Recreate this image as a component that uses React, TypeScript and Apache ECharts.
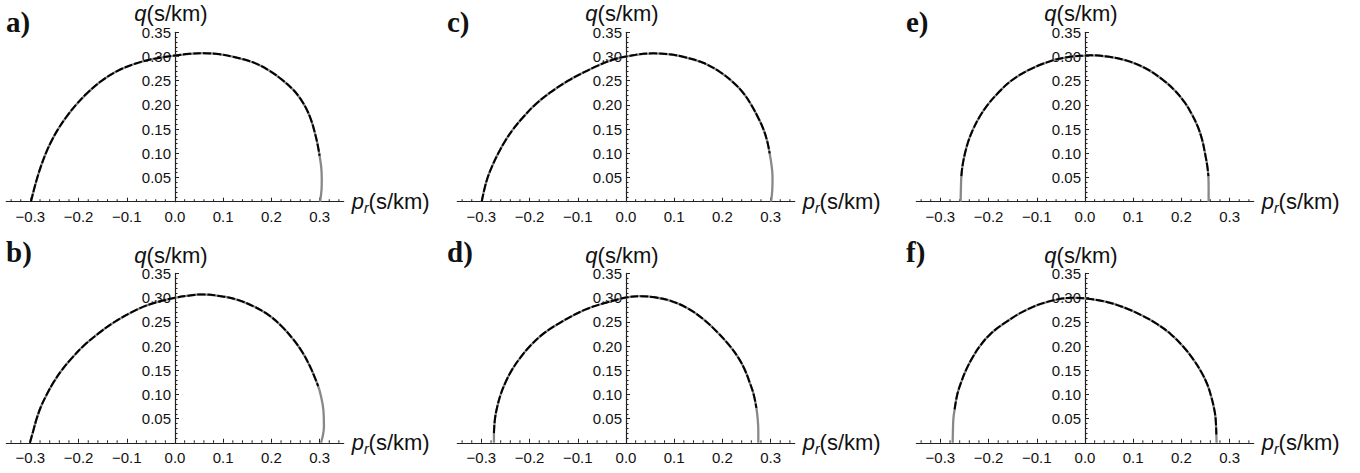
import React, { useEffect, useRef } from "react";
import * as echarts from "echarts";

// Slowness curves q(p_r) for six cases; each point is [p_r, q] in s/km.
const curveA: [number, number][] = [
  [-0.299, 0], [-0.2926, 0.025], [-0.2856, 0.05], [-0.2775, 0.075], [-0.268, 0.1],
  [-0.2565, 0.125], [-0.2425, 0.15], [-0.2255, 0.175], [-0.2055, 0.2], [-0.1815, 0.225],
  [-0.152, 0.25], [-0.12, 0.27], [-0.083, 0.285], [-0.045, 0.295], [0, 0.302],
  [0.03, 0.3055], [0.059, 0.3068], [0.09, 0.305], [0.12, 0.2995], [0.163, 0.2875],
  [0.197, 0.27], [0.222, 0.252], [0.2445, 0.232], [0.26, 0.213], [0.273, 0.191],
  [0.283, 0.167], [0.29, 0.143], [0.2955, 0.12], [0.3, 0.095], [0.3035, 0.07],
  [0.3045, 0.046], [0.304, 0.025], [0.301, 0],
];
const curveB: [number, number][] = [
  [-0.301, 0], [-0.294, 0.025], [-0.287, 0.05], [-0.278, 0.075], [-0.266, 0.1],
  [-0.252, 0.125], [-0.235, 0.15], [-0.214, 0.175], [-0.19, 0.2], [-0.16, 0.225],
  [-0.128, 0.248], [-0.0795, 0.275], [-0.04, 0.29], [0, 0.2996], [0.028, 0.304],
  [0.055, 0.3065], [0.095, 0.303], [0.128, 0.296], [0.165, 0.281], [0.197, 0.262],
  [0.222, 0.24], [0.2455, 0.2135], [0.265, 0.186], [0.28, 0.158], [0.29, 0.135],
  [0.297, 0.117], [0.302, 0.1], [0.3077, 0.069], [0.309, 0.034], [0.303, 0],
];
const curveC: [number, number][] = [
  [-0.2994, 0], [-0.294, 0.025], [-0.287, 0.05], [-0.277, 0.075], [-0.265, 0.1],
  [-0.251, 0.125], [-0.234, 0.15], [-0.213, 0.175], [-0.189, 0.2], [-0.158, 0.225],
  [-0.12, 0.25], [-0.088, 0.267], [-0.061, 0.28], [-0.03, 0.2925], [0, 0.3],
  [0.0567, 0.3065], [0.09, 0.3045], [0.12, 0.299], [0.16, 0.287], [0.195, 0.268],
  [0.222, 0.247], [0.243, 0.225], [0.26, 0.2], [0.275, 0.172], [0.285, 0.15],
  [0.293, 0.125], [0.298, 0.1], [0.302, 0.075], [0.304, 0.05], [0.3035, 0.025],
  [0.301, 0],
];
const curveD: [number, number][] = [
  [-0.274, 0], [-0.274, 0.02], [-0.2718, 0.05], [-0.267, 0.075], [-0.26, 0.1],
  [-0.25, 0.125], [-0.237, 0.15], [-0.22, 0.175], [-0.199, 0.2], [-0.172, 0.225],
  [-0.137, 0.248], [-0.085, 0.275], [-0.04, 0.29], [0, 0.3], [0.03, 0.303],
  [0.06, 0.3005], [0.0913, 0.2938], [0.126, 0.279], [0.1604, 0.2555], [0.19, 0.228],
  [0.2158, 0.1997], [0.233, 0.176], [0.2462, 0.1515], [0.2565, 0.125], [0.2649, 0.0999],
  [0.2705, 0.072], [0.2732, 0.0496], [0.2745, 0.025], [0.2745, 0],
];
const curveE: [number, number][] = [
  [-0.258, 0], [-0.2575, 0.025], [-0.2565, 0.053], [-0.254, 0.075], [-0.249, 0.1],
  [-0.242, 0.125], [-0.232, 0.15], [-0.219, 0.175], [-0.202, 0.2], [-0.18, 0.225],
  [-0.153, 0.25], [-0.115, 0.273], [-0.07, 0.291], [-0.03, 0.2995], [0, 0.302],
  [0.01, 0.3025], [0.045, 0.3], [0.085, 0.292], [0.125, 0.276], [0.16, 0.253],
  [0.186, 0.23], [0.207, 0.205], [0.222, 0.18], [0.234, 0.155], [0.243, 0.128],
  [0.249, 0.1], [0.2535, 0.075], [0.256, 0.053], [0.2565, 0.025], [0.2565, 0],
];
const curveF: [number, number][] = [
  [-0.2745, 0], [-0.274, 0.025], [-0.273, 0.05], [-0.2705, 0.069], [-0.265, 0.1],
  [-0.257, 0.125], [-0.247, 0.15], [-0.234, 0.175], [-0.218, 0.2], [-0.196, 0.225],
  [-0.166, 0.248], [-0.121, 0.275], [-0.0726, 0.2927], [-0.024, 0.2996], [0, 0.2985],
  [0.045, 0.291], [0.0864, 0.2775], [0.1175, 0.2635], [0.1487, 0.246], [0.178, 0.2245],
  [0.204, 0.1985], [0.225, 0.172], [0.242, 0.145], [0.254, 0.12], [0.262, 0.095],
  [0.268, 0.07], [0.271, 0.05], [0.2725, 0.017], [0.273, 0],
];

// Lowest q reached by the dashed curve on the left and right branches.
const dashCutA = [0, 0.095];
const dashCutB = [0, 0.117];
const dashCutC = [0, 0.1];
const dashCutD = [0.02, 0.072];
const dashCutE = [0.053, 0.053];
const dashCutF = [0.069, 0.017];

const panelLabels = ["a)", "b)", "c)", "d)", "e)", "f)"];
const curves = [curveA, curveB, curveC, curveD, curveE, curveF];
const dashCuts = [dashCutA, dashCutB, dashCutC, dashCutD, dashCutE, dashCutF];

const xLabelTicks = [-0.3, -0.2, -0.1, 0, 0.1, 0.2, 0.3];
const xMinorTicks: number[] = [];
for (let i = -17; i <= 17; i++) if (i % 5 !== 0) xMinorTicks.push(+(i * 0.02).toFixed(2));

const SANS = "'Liberation Sans', Arial, sans-serif";
const SERIF = "'Liberation Serif', 'Times New Roman', serif";
const AXIS_COLOR = "#222";
const TEXT_COLOR = "#111";

// Pixel position of the origin of each panel (a,b left column; c,d middle; e,f right).
const zeroX = [175, 175, 626, 626, 1085, 1085];
const zeroY = [201.7, 442.8, 201.7, 442.8, 201.7, 442.8];
const X_SCALE = 482;
const Y_SCALE = 484;

function dashedPart(pts: [number, number][], cut: number[]) {
  let peak = 0;
  pts.forEach((p, i) => { if (p[1] > pts[peak][1]) peak = i; });
  return pts.filter((p, i) => (i <= peak ? p[1] >= cut[0] : p[1] >= cut[1]));
}

export default function App() {
  const ref = useRef<HTMLDivElement>(null);
  useEffect(() => {
    if (!ref.current) return;
    const chart = echarts.init(ref.current, null, { renderer: "svg" });
    const grid: any[] = [];
    const xAxis: any[] = [];
    const yAxis: any[] = [];
    const series: any[] = [];
    const graphic: any[] = [];

    curves.forEach((pts, k) => {
      const top = zeroY[k] - 0.35 * Y_SCALE;
      const height = 0.35 * Y_SCALE;
      // plotting grid: the full p_r range, with the horizontal axis at q = 0
      grid.push({
        left: zeroX[k] - 0.35 * X_SCALE,
        top,
        width: 0.7 * X_SCALE,
        height,
        containLabel: false,
        outerBoundsMode: "none",
      });
      // right-half grid whose left edge is p_r = 0: carries the vertical axis
      grid.push({
        left: zeroX[k],
        top,
        width: 0.35 * X_SCALE,
        height,
        containLabel: false,
        outerBoundsMode: "none",
      });
      const gMain = 2 * k;
      const gAxis = 2 * k + 1;

      xAxis.push({
        type: "value",
        gridIndex: gMain,
        min: -0.35,
        max: 0.35,
        position: "bottom",
        splitLine: { show: false },
        axisLine: { show: true, onZero: false, lineStyle: { color: AXIS_COLOR, width: 1.2 } },
        axisTick: { show: true, inside: true, length: 4, customValues: xLabelTicks, lineStyle: { color: AXIS_COLOR } },
        axisLabel: {
          customValues: xLabelTicks,
          margin: 7,
          fontSize: 15,
          fontFamily: SANS,
          color: TEXT_COLOR,
          formatter: (v: number) => v.toFixed(1).replace("-", "\u2212"),
        },
        name: "{p|p}{r|r}{u|(s/km)}",
        nameLocation: "end",
        nameGap: 8,
        nameTextStyle: {
          color: TEXT_COLOR,
          verticalAlign: "middle",
          rich: {
            p: { fontStyle: "italic", fontSize: 22, fontFamily: SANS, color: TEXT_COLOR, lineHeight: 27 },
            r: { fontStyle: "italic", fontSize: 14, fontFamily: SANS, color: TEXT_COLOR, lineHeight: 15, verticalAlign: "bottom" },
            u: { fontSize: 22, fontFamily: SANS, color: TEXT_COLOR, lineHeight: 27 },
          },
        },
      });
      xAxis.push({
        type: "value",
        gridIndex: gAxis,
        min: 0,
        max: 0.35,
        show: false,
      });
      yAxis.push({
        type: "value",
        gridIndex: gMain,
        min: 0,
        max: 0.35,
        show: false,
      });
      yAxis.push({
        type: "value",
        gridIndex: gAxis,
        min: 0,
        max: 0.35,
        interval: 0.05,
        position: "left",
        splitLine: { show: false },
        axisLine: { show: true, onZero: false, lineStyle: { color: AXIS_COLOR, width: 1.2 } },
        axisTick: { show: true, inside: true, length: 4, lineStyle: { color: AXIS_COLOR } },
        minorTick: { show: true, splitNumber: 5, length: 2.5, lineStyle: { color: AXIS_COLOR } },
        axisLabel: {
          showMinLabel: false,
          margin: 4,
          fontSize: 15,
          fontFamily: SANS,
          color: TEXT_COLOR,
          formatter: (v: number) => v.toFixed(2),
        },
        name: "{q|q}{u|(s/km)}",
        nameLocation: "end",
        nameGap: 5,
        nameTextStyle: {
          padding: [0, 8, 0, 0],
          rich: {
            q: { fontStyle: "italic", fontSize: 22, fontFamily: SANS, color: TEXT_COLOR },
            u: { fontSize: 22, fontFamily: SANS, color: TEXT_COLOR },
          },
        },
      });
      // minor ticks of the horizontal axis
      series.push({
        type: "custom",
        xAxisIndex: gMain,
        yAxisIndex: gMain,
        silent: true,
        data: xMinorTicks.map((v) => [v, 0]),
        renderItem: (_p: any, api: any) => {
          const c = api.coord([api.value(0), 0]);
          return {
            type: "line",
            shape: { x1: c[0], y1: c[1], x2: c[0], y2: c[1] - 2.5 },
            style: { stroke: AXIS_COLOR, lineWidth: 1 },
          };
        },
      });
      series.push({
        type: "line",
        xAxisIndex: gMain,
        yAxisIndex: gMain,
        data: pts,
        showSymbol: false,
        smooth: 0.4,
        lineStyle: { color: "#888888", width: 2.3 },
        z: 3,
      });
      series.push({
        type: "line",
        xAxisIndex: gMain,
        yAxisIndex: gMain,
        data: dashedPart(pts, dashCuts[k]),
        showSymbol: false,
        smooth: 0.4,
        lineStyle: { color: "#000", width: 2, type: [8, 2] },
        z: 4,
      });
      const col = Math.floor(k / 2);
      const row = k % 2;
      graphic.push({
        type: "text",
        left: [6, 447, 906][col],
        top: [7, 237][row],
        style: { text: panelLabels[k], font: `bold 29px ${SERIF}`, fill: "#111" },
      });
    });

    chart.setOption({
      animation: false,
      backgroundColor: "#fff",
      textStyle: { fontFamily: SANS },
      grid,
      xAxis,
      yAxis,
      series,
      graphic,
    });
    return () => chart.dispose();
  }, []);
  return (
    <div
      ref={ref}
      style={{ position: "fixed", left: 0, top: 0, width: 1360, height: 473, background: "#fff" }}
    />
  );
}
